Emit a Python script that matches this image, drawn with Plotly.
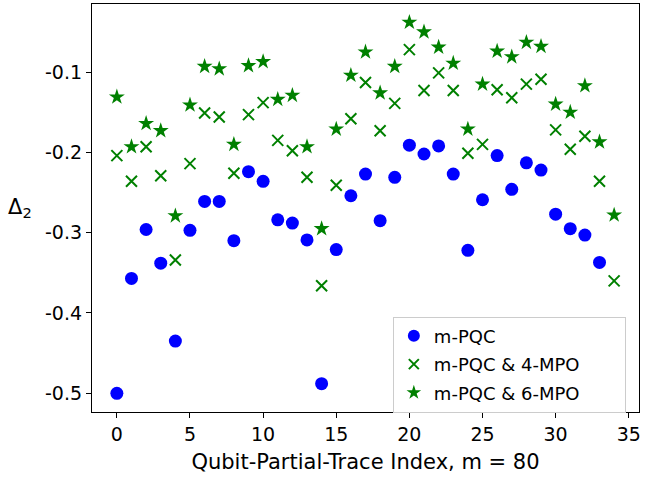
import plotly.graph_objects as go

idx_pqc = list(range(34))
pqc = [-0.500, -0.357, -0.296, -0.338, -0.435, -0.297, -0.261, -0.261, -0.310, -0.224,
       -0.236, -0.284, -0.288, -0.309, -0.488, -0.321, -0.254, -0.227, -0.285, -0.231,
       -0.191, -0.202, -0.192, -0.227, -0.322, -0.259, -0.204, -0.246, -0.213, -0.222,
       -0.277, -0.295, -0.303, -0.337]

idx_mpo = list(range(35))
mpo4 = [-0.204, -0.236, -0.193, -0.229, -0.334, -0.214, -0.151, -0.156, -0.226, -0.153,
        -0.138, -0.185, -0.198, -0.231, -0.366, -0.241, -0.158, -0.113, -0.173, -0.139,
        -0.072, -0.123, -0.101, -0.123, -0.201, -0.190, -0.122, -0.132, -0.115, -0.109,
        -0.172, -0.196, -0.180, -0.236, -0.360]
mpo6 = [-0.131, -0.193, -0.164, -0.173, -0.279, -0.141, -0.093, -0.096, -0.190, -0.092,
        -0.087, -0.134, -0.129, -0.193, -0.295, -0.171, -0.104, -0.075, -0.126, -0.093,
        -0.038, -0.050, -0.069, -0.089, -0.171, -0.115, -0.074, -0.081, -0.063, -0.068,
        -0.140, -0.150, -0.117, -0.187, -0.278]

names = ["m-PQC", "m-PQC & 4-MPO", "m-PQC & 6-MPO"]
xticks = [0, 5, 10, 15, 20, 25, 30, 35]
yticks = [-0.5, -0.4, -0.3, -0.2, -0.1]
yticktext = ["-0.5", "-0.4", "-0.3", "-0.2", "-0.1"]

FONT = "DejaVu Sans"
BLUE = "#0000ff"
GREEN = "#008000"
PAD = "\u00a0" * 7

fig = go.Figure()
# data traces
fig.add_trace(go.Scatter(x=idx_pqc, y=pqc, mode="markers", name=names[0], showlegend=False,
                         marker=dict(symbol="circle", size=13, color=BLUE)))
fig.add_trace(go.Scatter(x=idx_mpo, y=mpo4, mode="markers", name=names[1], showlegend=False,
                         marker=dict(symbol="x-thin", size=11, color=GREEN,
                                     line=dict(width=2, color=GREEN))))
fig.add_trace(go.Scatter(x=idx_mpo, y=mpo6, mode="markers", name=names[2], showlegend=False,
                         marker=dict(symbol="star", size=12, color=GREEN, line=dict(width=0))))
# legend-only entries (smaller markers, like the reference legend)
fig.add_trace(go.Scatter(x=[None], y=[None], mode="markers", name=names[0] + PAD, legendgroup="a",
                         marker=dict(symbol="circle", size=12, color=BLUE)))
fig.add_trace(go.Scatter(x=[None], y=[None], mode="markers", name=names[1] + PAD, legendgroup="b",
                         marker=dict(symbol="x-thin", size=10, color=GREEN,
                                     line=dict(width=2, color=GREEN))))
fig.add_trace(go.Scatter(x=[None], y=[None], mode="markers", name=names[2] + PAD, legendgroup="c",
                         marker=dict(symbol="star", size=11, color=GREEN, line=dict(width=0))))

axis_common = dict(showline=True, mirror=True, linecolor="black", linewidth=1.2,
                   ticks="outside", ticklen=5, tickcolor="black", showgrid=False,
                   zeroline=False, automargin=False,
                   tickfont=dict(family=FONT, size=19, color="black"))

fig.update_layout(
    width=646, height=485,
    margin=dict(l=92, r=7, t=4, b=73),
    plot_bgcolor="white", paper_bgcolor="white",
    font=dict(family=FONT, size=18, color="black"),
    xaxis=dict(range=[-1.7, 35.7], tickvals=xticks,
               title=dict(text="Qubit-Partial-Trace Index, m = 80",
                          font=dict(family=FONT, size=21), standoff=10),
               **axis_common),
    yaxis=dict(range=[-0.5233, -0.0152], tickvals=yticks, ticktext=yticktext,
               **axis_common),
    legend=dict(x=0.55, y=0.234, xanchor="left", yanchor="top",
                bgcolor="rgba(255,255,255,0.8)", bordercolor="#cccccc", borderwidth=1,
                traceorder="grouped", tracegroupgap=2,
                font=dict(family=FONT, size=18, color="black")),
    showlegend=True,
    annotations=[dict(text="Δ<sub>2</sub>", xref="paper", yref="paper",
                      x=(20 - 92) / 547, y=0.5, showarrow=False,
                      xanchor="center", yanchor="middle",
                      font=dict(family=FONT, size=21, color="black"))],
)

fig.write_html("out.html", config={"displayModeBar": False},
               post_script="document.body.style.margin='0';")
